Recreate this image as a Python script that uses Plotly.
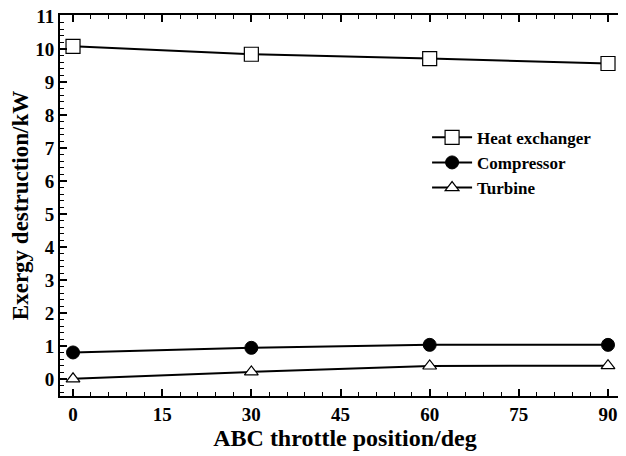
import plotly.graph_objects as go

x_deg = [0, 30, 60, 90]
heat_exchanger = [10.08, 9.84, 9.71, 9.56]
compressor = [0.80, 0.94, 1.03, 1.03]
turbine = [0.00, 0.21, 0.39, 0.40]

x_ticks = [0, 15, 30, 45, 60, 75, 90]
y_ticks = list(range(0, 12))

FONT = "Liberation Serif"

fig = go.Figure()
fig.add_trace(go.Scatter(
    x=x_deg, y=heat_exchanger, name="Heat exchanger", mode="lines+markers",
    line=dict(color="black", width=2),
    marker=dict(symbol="square", size=14, color="white", line=dict(color="black", width=1.2))))
fig.add_trace(go.Scatter(
    x=x_deg, y=compressor, name="Compressor", mode="lines+markers",
    line=dict(color="black", width=2),
    marker=dict(symbol="circle", size=13, color="black", line=dict(color="black", width=1))))
fig.add_trace(go.Scatter(
    x=x_deg, y=turbine, name="Turbine", mode="lines+markers",
    line=dict(color="black", width=2),
    marker=dict(symbol="triangle-up", size=12, color="white", line=dict(color="black", width=1.2))))

# page body has an 8px margin, so the figure is offset by 8px right and down
fig.update_layout(
    width=622, height=448,
    margin=dict(l=52, r=0, t=7, b=60),
    paper_bgcolor="white", plot_bgcolor="white",
    font=dict(family=FONT, color="black", size=16),
    showlegend=True,
    legend=dict(x=0.644, y=0.725, xanchor="left", yanchor="top",
                bgcolor="rgba(0,0,0,0)", borderwidth=0,
                font=dict(family=FONT, size=17, color="black", weight="bold"),
                itemwidth=40, tracegroupgap=0),
    xaxis=dict(
        range=[-2.19, 93.7], tickmode="array", tickvals=x_ticks,
        ticktext=[str(v) for v in x_ticks],
        showline=True, linecolor="black", linewidth=2, mirror="ticks",
        ticks="inside", ticklen=7, tickwidth=1.5, tickcolor="black",
        showgrid=False, zeroline=False, automargin=False,
        ticklabeloverflow="allow",
        tickfont=dict(family=FONT, size=19, weight="bold"),
        minor=dict(dtick=3, ticks="inside", ticklen=4, tickwidth=1, tickcolor="black", showgrid=False),
        title=dict(text="ABC throttle position/deg", standoff=4,
                   font=dict(family=FONT, size=24, weight="bold")),
    ),
    yaxis=dict(
        range=[-0.52, 11.03], tickmode="array", tickvals=y_ticks,
        ticktext=[str(v) for v in y_ticks],
        showline=True, linecolor="black", linewidth=2, mirror="ticks",
        ticks="inside", ticklen=7, tickwidth=1.5, tickcolor="black",
        showgrid=False, zeroline=False, automargin=False,
        ticklabeloverflow="allow",
        tickfont=dict(family=FONT, size=19, weight="bold"),
        minor=dict(dtick=0.2, ticks="inside", ticklen=4, tickwidth=1, tickcolor="black", showgrid=False),
        title=dict(text="Exergy destruction/kW", standoff=4,
                   font=dict(family=FONT, size=23, weight="bold")),
    ),
)

fig.write_html("out.html")
